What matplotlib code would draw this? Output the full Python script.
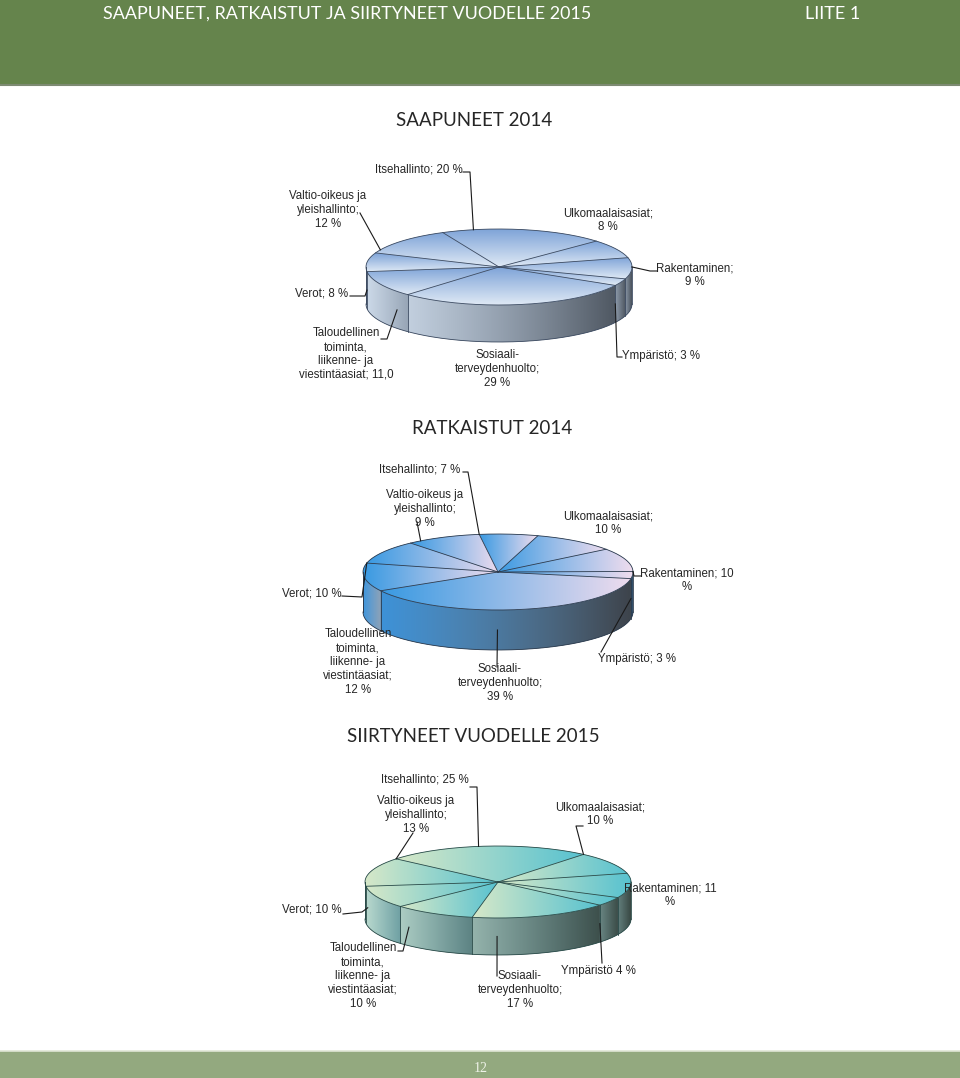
import numpy as np
import matplotlib.pyplot as plt
from matplotlib.patches import Polygon, Rectangle
from matplotlib.colors import to_rgb

# Slices clockwise from the top of each pie
categories = ['Itsehallinto', 'Ulkomaalaisasiat', 'Rakentaminen', 'Ympäristö',
              'Sosiaali- terveydenhuolto',
              'Taloudellinen toiminta, liikenne- ja viestintäasiat',
              'Verot', 'Valtio-oikeus ja yleishallinto']

saapuneet_2014 = [20, 8, 9, 3, 29, 11, 8, 12]
ratkaistut_2014 = [7, 10, 10, 3, 39, 12, 10, 9]
siirtyneet_2015 = [25, 10, 11, 4, 17, 10, 10, 13]

labels_saapuneet = ['Itsehallinto; 20 %', 'Ulkomaalaisasiat;\n8 %', 'Rakentaminen;\n9 %',
                    'Ympäristö; 3 %', 'Sosiaali-\nterveydenhuolto;\n29 %',
                    'Taloudellinen\ntoiminta,\nliikenne- ja\nviestintäasiat; 11,0',
                    'Verot; 8 %', 'Valtio-oikeus ja\nyleishallinto;\n12 %']
labels_ratkaistut = ['Itsehallinto; 7 %', 'Ulkomaalaisasiat;\n10 %', 'Rakentaminen; 10\n%',
                     'Ympäristö; 3 %', 'Sosiaali-\nterveydenhuolto;\n39 %',
                     'Taloudellinen\ntoiminta,\nliikenne- ja\nviestintäasiat;\n12 %',
                     'Verot; 10 %', 'Valtio-oikeus ja\nyleishallinto;\n9 %']
labels_siirtyneet = ['Itsehallinto; 25 %', 'Ulkomaalaisasiat;\n10 %', 'Rakentaminen; 11\n%',
                     'Ympäristö 4 %', 'Sosiaali-\nterveydenhuolto;\n17 %',
                     'Taloudellinen\ntoiminta,\nliikenne- ja\nviestintäasiat;\n10 %',
                     'Verot; 10 %', 'Valtio-oikeus ja\nyleishallinto;\n13 %']

titles = ['SAAPUNEET 2014', 'RATKAISTUT 2014', 'SIIRTYNEET VUODELLE 2015']
header = 'SAAPUNEET, RATKAISTUT JA SIIRTYNEET VUODELLE 2015'

# label placement (pixel coords): text centre, leader points on the text side
layout_saapuneet = [
    ((419, 169), [(463, 172), (470, 172)]),
    ((608, 220), None),
    ((695, 275), [(657, 271), (650, 271)]),
    ((661, 356), [(622, 357), (617, 357)]),
    ((497, 369), None),
    ((346, 354), [(381, 339), (387, 339)]),
    ((322, 293), [(350, 296), (365, 296)]),
    ((328, 210), [(360, 213)]),
]
layout_ratkaistut = [
    ((420, 469), [(463, 472), (468, 472)]),
    ((608, 523), None),
    ((687, 580), [(641, 576), (634, 576)]),
    ((637, 659), [(601, 652)]),
    ((500, 683), [(497, 667)]),
    ((358, 662), None),
    ((312, 593), [(342, 596), (362, 597)]),
    ((425, 509), [(417, 522)]),
]
layout_siirtyneet = [
    ((425, 780), [(470, 787), (477, 787)]),
    ((600, 814), [(583, 826), (576, 826)]),
    ((670, 895), None),
    ((598, 971), [(602, 963)]),
    ((520, 990), [(497, 976)]),
    ((363, 976), [(398, 951), (403, 951)]),
    ((312, 909), [(343, 914), (362, 912)]),
    ((416, 815), [(413, 833)]),
]

# pie geometry: centre, half axes, depth, start angle
geoms = [dict(cx=499, cy=267, a=133, b=38, d=37, start=115),
         dict(cx=498, cy=572, a=135, b=38, d=40, start=98),
         dict(cx=498, cy=882, a=133, b=36, d=37, start=140)]
title_pos = [(474, 121), (492, 428), (473, 737)]

# top gradient (from, to, vertical?) and side colours (LL, RL, LR, RR)
styles = [
    dict(top=('#7fa4d8', '#dfe9f5'), vert=True,
         side=('#ccd9e8', '#8a97a7', '#a6b5c7', '#4a525c'), edge='#3c4a60'),
    dict(top=('#3a9ae2', '#eedcee'), vert=False,
         side=('#3f95dc', '#275e8c', '#93a9bf', '#3d434b'), edge='#2c3a4c'),
    dict(top=('#d6e8c8', '#58c2d0'), vert=False,
         side=('#b9d9ce', '#5e7a78', '#78aeb2', '#36443f'), edge='#2a4a48'),
]


def lerp(c0, c1, t):
    c0 = np.array(to_rgb(c0))
    c1 = np.array(to_rgb(c1))
    return c0 + (c1 - c0) * np.asarray(t)[..., None]


def draw_pie(ax, values, labels, layout, g, st):
    cx, cy, a, b, d = g['cx'], g['cy'], g['a'], g['b'], g['d']
    vals = np.asarray(values, float)
    ang = g['start'] - np.r_[0, np.cumsum(vals)] / vals.sum() * 360.0

    def rim(t):
        r = np.radians(t)
        return cx + a * np.cos(r), cy - b * np.sin(r)

    # base fills so no gaps show between gradient pieces
    x, y = rim(np.linspace(180, 360, 200))
    ax.add_patch(Polygon(np.r_[np.c_[x, y], np.c_[x[::-1], y[::-1] + d]],
                         fc=lerp(st['side'][1], st['side'][2], 0.5), ec='none', zorder=0.9))
    x, y = rim(np.linspace(0, 360, 300))
    ax.add_patch(Polygon(np.c_[x, y], fc=lerp(st['top'][0], st['top'][1], 0.5),
                         ec='none', zorder=1.9))

    # side walls (front half only)
    for i in range(len(vals)):
        hi, lo = ang[i], ang[i + 1]
        for k in range(-2, 3):
            s0, s1 = max(lo, -180 + 360 * k), min(hi, 360 * k)
            if s1 <= s0:
                continue
            x, y = rim(np.linspace(s1, s0, 80))
            pts = np.r_[np.c_[x, y], np.c_[x[::-1], y[::-1] + d]]
            poly = Polygon(pts, closed=True, fc='none', ec='none')
            ax.add_patch(poly)
            x0, x1 = x.min(), x.max()
            xs = np.linspace(x0, x1, 64)
            gx = (xs - (cx - a)) / (2 * a)
            lx = np.linspace(0, 1, 64)[:, None]
            left = lerp(st['side'][0], st['side'][1], gx)
            right = lerp(st['side'][2], st['side'][3], gx)
            img = (left + (right - left) * lx)[None, :, :]
            im = ax.imshow(img, extent=(x0, x1, y.max() + d, y.min()), aspect='auto',
                           interpolation='bilinear', zorder=1)
            im.set_clip_path(poly)
            ax.plot([x0, x0], [rim(s0)[1], rim(s0)[1] + d], color=st['edge'], lw=0.6, zorder=3)

    # top surface
    for i in range(len(vals)):
        x, y = rim(np.linspace(ang[i], ang[i + 1], 100))
        pts = np.r_[[[cx, cy]], np.c_[x, y]]
        poly = Polygon(pts, closed=True, fc='none', ec='none')
        ax.add_patch(poly)
        t = np.linspace(0, 1, 64)
        img = lerp(st['top'][0], st['top'][1], t)
        img = img[:, None, :] if st['vert'] else img[None, :, :]
        im = ax.imshow(img, extent=(pts[:, 0].min(), pts[:, 0].max(),
                                    pts[:, 1].max(), pts[:, 1].min()),
                       aspect='auto', interpolation='bilinear', zorder=2)
        im.set_clip_path(poly)
        bx, by = rim(ang[i])
        ax.plot([cx, bx], [cy, by], color=st['edge'], lw=0.6, zorder=3)

    # outline
    x, y = rim(np.linspace(0, 360, 300))
    ax.plot(x, y, color=st['edge'], lw=0.6, zorder=3)
    x, y = rim(np.linspace(180, 360, 200))
    ax.plot(x, y + d, color=st['edge'], lw=0.6, zorder=3)
    for e in (cx - a, cx + a):
        ax.plot([e, e], [cy, cy + d], color=st['edge'], lw=0.6, zorder=3)

    # labels and leader lines
    for i, (text, (pos, lead)) in enumerate(zip(labels, layout)):
        ax.text(pos[0], pos[1], text, ha='center', va='center', multialignment='center',
                fontsize=8.3, family='Liberation Sans', color='#262626',
                linespacing=1.2, zorder=6)
        if lead is None:
            continue
        t = np.linspace(ang[i], ang[i + 1], 120)
        r = np.radians(t)
        ax_x = cx + a * np.cos(r)
        ax_y = cy - b * np.sin(r) + np.where(np.sin(r) < 0, d * 0.5, 0)
        ex, ey = lead[-1]
        j = np.argmin((ax_x - ex) ** 2 + (ax_y - ey) ** 2)
        px = [p[0] for p in lead] + [ax_x[j]]
        py = [p[1] for p in lead] + [ax_y[j]]
        ax.plot(px, py, color='#1a1a1a', lw=0.8, zorder=5)


fig = plt.figure(figsize=(9.6, 10.78), dpi=100)
ax = fig.add_axes([0, 0, 1, 1])
ax.axis('off')

# header and footer bands
ax.add_patch(Rectangle((0, 0), 960, 84, fc='#65844c', ec='none', zorder=0))
ax.plot([0, 960], [85, 85], color='#7d8a72', lw=1.5, zorder=0)
ax.add_patch(Rectangle((0, 1051), 960, 27, fc='#93a97f', ec='none', zorder=0))
ax.plot([0, 960], [1050.5, 1050.5], color='#dfe6d5', lw=1.2, zorder=0)
ax.text(103, 14, header, ha='left', va='center', fontsize=12.9, family='Lato', color='white')
ax.text(805, 14, 'LIITE 1', ha='left', va='center', fontsize=13, family='Lato', color='white')
ax.text(481, 1068, '12', ha='center', va='center', fontsize=10,
        family='Liberation Serif', color='#eef2e8')

data = [saapuneet_2014, ratkaistut_2014, siirtyneet_2015]
labels = [labels_saapuneet, labels_ratkaistut, labels_siirtyneet]
layouts = [layout_saapuneet, layout_ratkaistut, layout_siirtyneet]
for vals, labs, lay, g, st, title, tp in zip(data, labels, layouts, geoms, styles, titles, title_pos):
    ax.text(tp[0], tp[1], title, ha='center', va='center', fontsize=13.5,
            family='Lato', color='#262626')
    draw_pie(ax, vals, labs, lay, g, st)

ax.set_xlim(0, 960)
ax.set_ylim(1078, 0)
fig.savefig('out.png', dpi=100)
